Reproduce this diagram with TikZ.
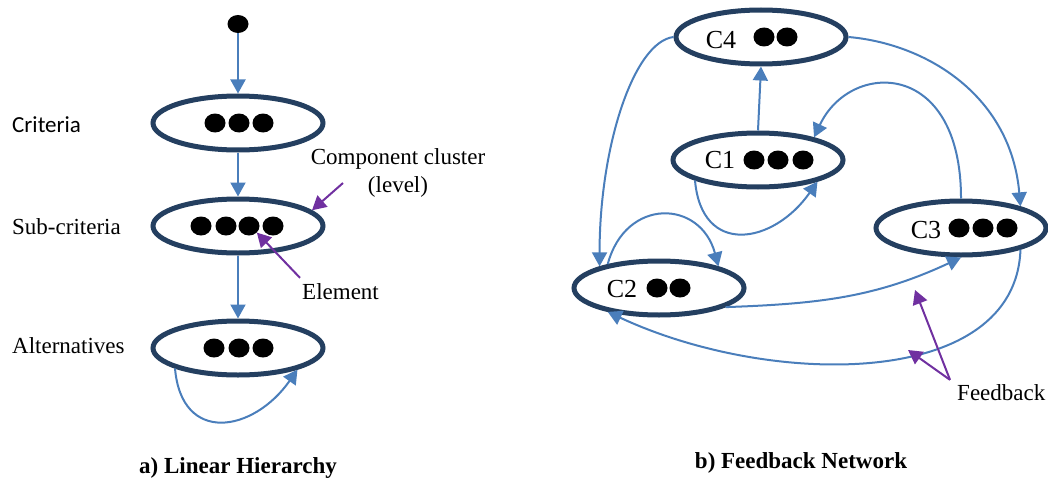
\documentclass[tikz,border=0pt]{standalone}
\usepackage{fontspec}
\setmainfont{Liberation Serif}
\newfontfamily\calibri{Carlito}
\usetikzlibrary{arrows.meta,shapes.geometric}
\definecolor{linkblue}{HTML}{4A7EBB}
\definecolor{rimnavy}{HTML}{243F60}
\definecolor{notepurple}{HTML}{7030A0}
\tikzset{%
  font=\fontsize{23}{28}\selectfont,>={Triangle[length=14pt,width=15pt]},
  clus/.style={ellipse,draw=rimnavy,line width=5pt,fill=white,minimum width=170pt,minimum height=54pt,inner sep=0pt},
  dot/.style={ellipse,fill=black,minimum width=21pt,minimum height=19pt,inner sep=0pt},
  cname/.style={anchor=base,inner sep=0pt,font=\fontsize{26}{30}\selectfont},
  lbl/.style={anchor=base west,inner sep=0pt},
  ttl/.style={anchor=base,inner sep=0pt,font=\fontsize{23}{28}\selectfont\bfseries},
  line/.style={draw=linkblue,line width=2pt,->},
  pointer/.style={draw=notepurple,line width=2pt,->}
}
\begin{document}
\begin{tikzpicture}[x=1pt,y=1pt]
  \useasboundingbox (0,0) rectangle (1048,483);
  % a) linear hierarchy
  \node[dot,minimum height=18pt] (top) at (238,459) {};
  \node[clus] (crit) at (238,360) {};
  \node[clus] (subcrit) at (238,257) {};
  \node[clus] (alt) at (238,135) {};
  \foreach \dx [count=\i] in {-23,1,25}
    \node[dot] (crit-d\i) at ([xshift=\dx pt]crit.center) {};
  \foreach \dx [count=\i] in {-37,-12,11,35}
    \node[dot] (subcrit-d\i) at ([xshift=\dx pt]subcrit.center) {};
  \foreach \dx [count=\i] in {-24,1,25}
    \node[dot] (alt-d\i) at ([xshift=\dx pt]alt.center) {};
  \node[lbl,font=\fontsize{23}{28}\selectfont\calibri] (crit-lbl) at (12,351) {Criteria};
  \node[lbl] (subcrit-lbl) at (12,249) {Sub-criteria};
  \node[lbl] (alt-lbl) at (12,130) {Alternatives};
  \path[line] (top.south) -- (crit.north);
  \path[line] (crit.south) -- (subcrit.north);
  \path[line] (subcrit.south) -- (alt.north);
  \path[line] (alt.198) to[out=-85,in=-125,looseness=1.6] (alt.340);
  \node[anchor=north,inner sep=0pt,align=center] (clus-lbl) at (398,335) {Component cluster\\(level)};
  \coordinate (clus-tail) at (343,300);
  \path[pointer] (clus-tail) -- (subcrit.12);
  \node[lbl] (elem-lbl) at (302,184) {Element};
  \path[pointer] ([xshift=-2pt,yshift=5pt]elem-lbl.north west) -- (subcrit-d3.-40);
  \node[ttl] (cap-a) at (238,10) {a) Linear Hierarchy};
  % b) feedback network
  \node[clus] (c4) at (761,446) {};
  \node[clus] (c1) at (758,323) {};
  \node[clus] (c3) at (961,255) {};
  \node[clus] (c2) at (659,195) {};
  \node[cname] (c4-name) at ([xshift=-40pt,yshift=-12pt]c4.center) {C4};
  \node[cname] (c1-name) at ([xshift=-38pt,yshift=-8pt]c1.center) {C1};
  \node[cname] (c3-name) at ([xshift=-35pt,yshift=-10pt]c3.center) {C3};
  \node[cname] (c2-name) at ([xshift=-37pt,yshift=-9pt]c2.center) {C2};
  \foreach \dx [count=\i] in {3,26}
    \node[dot] (c4-d\i) at ([xshift=\dx pt]c4.center) {};
  \foreach \dx [count=\i] in {-4,20,45}
    \node[dot] (c1-d\i) at ([xshift=\dx pt]c1.center) {};
  \foreach \dx [count=\i] in {-2,22,46}
    \node[dot] (c3-d\i) at ([xshift=\dx pt]c3.center) {};
  \foreach \dx [count=\i] in {-2,21}
    \node[dot] (c2-d\i) at ([xshift=\dx pt]c2.center) {};
  \path[line] (c1.north) -- (c4.south);
  \path[line] (c4.west) to[out=187,in=90,out distance=40pt,in distance=120pt] (c2.160);
  \path[line] (c4.east) to[out=-5,in=95,out distance=80pt,in distance=110pt] (c3.20);
  \path[line] (c3.north) to[out=90,in=65,out distance=140pt,in distance=85pt] (c1.22);
  \path[line] (c1.198) to[out=-85,in=-125,looseness=1.6] (c1.340);
  \path[line] (c2.155) to[out=75,in=105,looseness=1.6] (c2.20);
  \path[line] (c2.-16) to[out=2,in=205] (c3.south);
  \path[line] (c3.-20) to[out=-92,in=-25,out distance=140pt,in distance=180pt] (c2.205);
  \node[lbl] (fb-lbl) at (957,83) {Feedback};
  \coordinate (fb-tail) at ([xshift=-7pt,yshift=4pt]fb-lbl.north west);
  \coordinate (fb-hit1) at (915,193);
  \coordinate (fb-hit2) at (908,133);
  \path[pointer] (fb-tail) -- (fb-hit1);
  \path[pointer] (fb-tail) -- (fb-hit2);
  \node[ttl] (cap-b) at (801,15) {b) Feedback Network};
\end{tikzpicture}
\end{document}
